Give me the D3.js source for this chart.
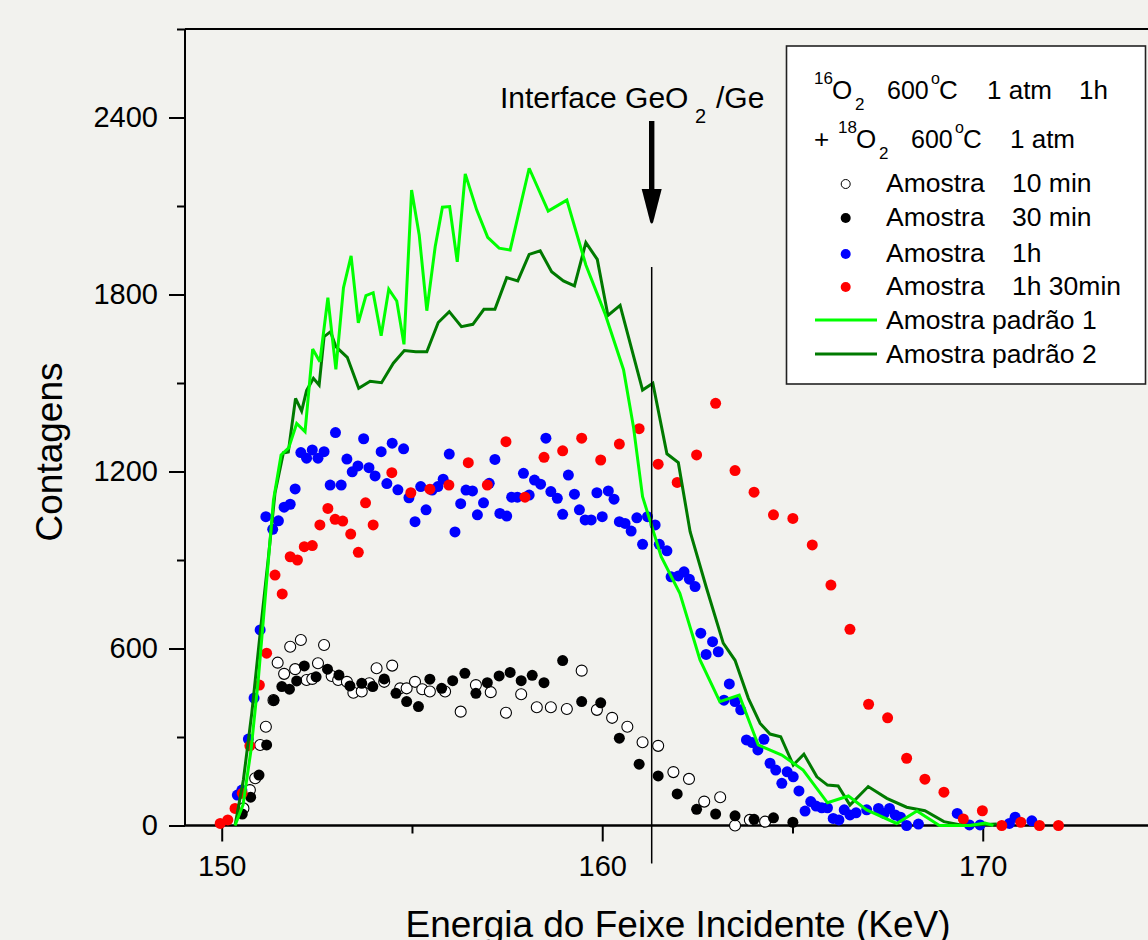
<!DOCTYPE html>
<html><head><meta charset="utf-8">
<script src="https://cdn.jsdelivr.net/npm/d3@7"></script>
<style>html,body{margin:0;padding:0;background:#f2f2ee;} svg{display:block;}</style>
</head><body>
<svg id="c" width="1148" height="940"></svg>
<script>
// ---------------- DATA ----------------
const xDomain = [149.035, 175];
const yDomain = [0, 2700];
const xMajorTicks = [150, 160, 170];
const xMinorTicks = [155, 165];
const yMajorTicks = [0, 600, 1200, 1800, 2400];
const yMinorTicks = [300, 900, 1500, 2100, 2700];
const interfaceEnergy = 161.3;
const interfaceTop = 1893;

// Amostra 10 min (open circles)
const amostra10min = [[150.57,58],[150.74,120],[150.88,160],[151.01,273],[151.16,335],[151.36,425],[151.47,552],[151.64,514],[151.80,606],[151.93,530],[152.08,629],[152.23,493],[152.38,497],[152.53,550],[152.69,612],[152.89,507],[153.06,493],[153.29,487],[153.46,450],[153.68,454],[153.88,482],[154.07,533],[154.27,487],[154.48,542],[154.69,465],[154.86,465],[155.08,487],[155.27,462],[155.47,454],[155.87,454],[156.28,386],[156.68,476],[157.07,452],[157.47,382],[157.87,445],[158.28,401],[158.65,401],[159.07,395],[159.46,525],[159.86,392],[160.26,365],[160.66,335],[161.06,282],[161.47,270],[161.87,181],[162.28,158],[162.68,81],[163.10,96],[163.49,0],[163.88,19],[164.28,13]];
// Amostra 30 min (black dots)
const amostra30min = [[150.54,39],[150.76,96],[150.98,171],[151.18,273],[151.37,425],[151.58,471],[151.78,462],[151.97,490],[152.17,541],[152.48,504],[152.78,530],[153.08,510],[153.37,473],[153.68,482],[153.97,471],[154.27,497],[154.58,448],[154.86,420],[155.17,403],[155.47,496],[155.78,465],[156.07,491],[156.39,516],[156.68,448],[156.98,484],[157.29,507],[157.58,519],[157.87,491],[158.16,509],[158.47,484],[158.96,559],[159.46,420],[159.96,416],[160.45,296],[160.97,208],[161.47,168],[161.97,107],[162.48,55],[162.98,39],[163.49,33],[163.99,21],[164.50,26],[165.01,11]];
// Amostra 1h (blue dots)
const amostra1h = [[150.41,103],[150.53,120],[150.70,293],[150.85,432],[151.01,663],[151.16,1047],[151.34,1004],[151.49,1033],[151.64,1079],[151.80,1089],[151.93,1141],[152.08,1264],[152.23,1245],[152.38,1273],[152.53,1245],[152.69,1267],[152.85,1154],[152.99,1332],[153.14,1154],[153.29,1242],[153.43,1199],[153.58,1219],[153.73,1311],[153.87,1213],[154.03,1185],[154.19,1267],[154.34,1159],[154.48,1296],[154.63,1138],[154.78,1277],[154.92,1111],[155.08,1030],[155.23,1149],[155.37,1070],[155.53,1137],[155.68,1149],[155.82,1174],[155.98,1259],[156.13,995],[156.28,1091],[156.42,1137],[156.59,1134],[156.72,1053],[156.88,1094],[157.03,1160],[157.18,1241],[157.31,1058],[157.49,1049],[157.62,1113],[157.77,1113],[157.93,1194],[158.08,1120],[158.22,1171],[158.38,1157],[158.52,1313],[158.65,1132],[158.82,1109],[158.96,1055],[159.11,1188],[159.27,1123],[159.40,1070],[159.55,1036],[159.71,1036],[159.86,1128],[160.00,1047],[160.16,1134],[160.31,1106],[160.45,1030],[160.60,1024],[160.76,998],[160.91,1043],[161.06,953],[161.19,1047],[161.39,1019],[161.50,953],[161.70,931],[161.81,843],[162.00,846],[162.15,860],[162.29,835],[162.44,810],[162.59,652],[162.73,580],[162.90,623],[163.05,589],[163.20,425],[163.34,480],[163.49,420],[163.64,392],[163.79,290],[163.94,281],[164.09,256],[164.25,292],[164.41,211],[164.56,188],[164.72,143],[164.86,182],[165.02,165],[165.17,117],[165.33,49],[165.48,81],[165.62,66],[165.77,60],[165.92,60],[166.07,24],[166.22,19],[166.36,53],[166.51,36],[166.67,43],[166.95,53],[167.26,58],[167.41,41],[167.55,58],[167.70,36],[167.84,28],[168.00,0],[168.31,5],[169.33,41],[169.65,2],[169.93,2],[170.70,7],[170.85,28],[171.29,16]];
// Amostra 1h 30min (red dots)
const amostra1h30 = [[149.96,7],[150.16,19],[150.35,58],[150.54,109],[150.74,270],[150.99,476],[151.18,584],[151.40,849],[151.59,785],[151.80,911],[151.99,900],[152.17,945],[152.38,949],[152.58,1019],[152.79,1075],[152.98,1038],[153.18,1032],[153.39,988],[153.59,926],[153.78,1094],[153.98,1019],[154.47,1196],[154.97,1128],[155.47,1140],[155.97,1154],[156.48,1230],[156.98,1154],[157.47,1301],[157.97,1113],[158.47,1248],[158.96,1270],[159.46,1313],[159.96,1239],[160.45,1293],[160.97,1345],[161.47,1225],[161.97,1163],[162.48,1256],[162.98,1431],[163.49,1203],[163.99,1130],[164.50,1053],[165.01,1041],[165.52,951],[166.01,815],[166.51,665],[167.00,411],[167.50,365],[168.00,228],[168.48,157],[168.98,113],[169.49,22],[169.99,50],[170.50,0],[171.00,11],[171.49,0],[171.99,0]];
// Amostra padrão 1 (light green line)
const padrao1 = [[150.35,0],[150.56,70],[150.77,256],[150.96,493],[151.16,798],[151.36,1103],[151.56,1256],[151.76,1280],[151.97,1363],[152.19,1335],[152.39,1615],[152.58,1572],[152.79,1789],[153.00,1546],[153.20,1823],[153.40,1931],[153.59,1704],[153.79,1796],[153.98,1806],[154.19,1660],[154.39,1818],[154.60,1778],[154.79,1631],[154.99,2154],[155.19,2002],[155.39,1745],[155.61,1962],[155.80,2096],[155.99,2098],[156.19,1911],[156.40,2209],[156.70,2087],[156.99,1994],[157.29,1957],[157.58,1951],[158.08,2228],[158.58,2083],[159.07,2120],[159.57,1900],[160.07,1736],[160.56,1545],[160.82,1352],[161.06,1115],[161.55,911],[162.04,787],[162.57,561],[163.09,420],[163.60,442],[164.10,273],[164.72,239],[165.28,188],[165.92,77],[166.47,100],[166.95,53],[167.74,7],[168.27,49],[168.86,0],[169.67,0],[170.06,8],[170.28,0]];
// Amostra padrão 2 (dark green line)
const padrao2 = [[150.35,0],[150.57,155],[150.79,381],[151.01,652],[151.22,900],[151.40,1127],[151.62,1263],[151.75,1266],[151.94,1448],[152.10,1405],[152.23,1474],[152.41,1516],[152.56,1493],[152.69,1657],[152.86,1674],[153.00,1623],[153.30,1587],[153.60,1482],[153.90,1506],[154.20,1501],[154.51,1567],[154.80,1610],[155.10,1606],[155.39,1606],[155.69,1705],[155.98,1742],[156.30,1691],[156.60,1699],[156.89,1750],[157.18,1750],[157.49,1857],[157.78,1846],[158.08,1936],[158.37,1948],[158.67,1877],[158.98,1846],[159.27,1829],[159.57,1976],[159.87,1919],[160.15,1729],[160.47,1763],[161.06,1476],[161.33,1499],[161.70,1260],[162.00,1230],[162.31,996],[162.74,805],[163.18,618],[163.49,560],[163.84,431],[164.15,346],[164.41,310],[164.69,301],[165.02,205],[165.30,242],[165.64,165],[165.92,137],[166.20,134],[166.51,69],[166.99,132],[167.48,92],[168.00,62],[168.48,50],[168.98,13],[169.49,0],[170.37,5]];

const legendItems = [
  {name:"Amostra", suffix:"10 min", type:"open", color:"#000"},
  {name:"Amostra", suffix:"30 min", type:"dot", color:"#000"},
  {name:"Amostra", suffix:"1h", type:"dot", color:"#0000ff"},
  {name:"Amostra", suffix:"1h 30min", type:"dot", color:"#ff0000"},
  {name:"Amostra padrão 1", suffix:"", type:"line", color:"#00ff00"},
  {name:"Amostra padrão 2", suffix:"", type:"line", color:"#007a00"}
];

// ---------------- DRAW ----------------
const W = 1148, H = 940;
const F = '"Liberation Sans", Arial, Helvetica, sans-serif';
const svg = d3.select('#c');
svg.append('rect').attr('width', W).attr('height', H).attr('fill', '#f2f2ee');

const x = d3.scaleLinear().domain(xDomain).range([185, 1173]);
const y = d3.scaleLinear().domain(yDomain).range([825.5, 29]);

// frame
const frame = svg.append('g').attr('stroke', '#000').attr('fill', 'none');
frame.append('line').attr('x1', x(xDomain[0])).attr('x2', x(xDomain[1])).attr('y1', y(yDomain[1])).attr('y2', y(yDomain[1])).attr('stroke-width', 2);
frame.append('line').attr('x1', x(xDomain[1])).attr('x2', x(xDomain[1])).attr('y1', y(yDomain[1])).attr('y2', y(0)).attr('stroke-width', 2);
frame.append('line').attr('x1', x(xDomain[0])).attr('x2', x(xDomain[0])).attr('y1', y(yDomain[1])).attr('y2', y(0)).attr('stroke-width', 2);
frame.append('line').attr('x1', x(xDomain[0])).attr('x2', x(xDomain[1])).attr('y1', y(0)).attr('y2', y(0)).attr('stroke-width', 2.6);

// axes
function styleAxis(g) {
  g.select('.domain').remove();
  g.attr('font-family', F).attr('font-size', 29);
  g.selectAll('line').attr('stroke', '#000').attr('stroke-width', 2);
  g.selectAll('text').attr('fill', '#000');
}
svg.append('g').attr('transform', `translate(${x(xDomain[0])},0)`)
  .call(d3.axisLeft(y).tickValues(yMajorTicks).tickSize(16).tickPadding(11).tickFormat(d3.format('d'))).call(styleAxis);
svg.append('g').attr('transform', `translate(${x(xDomain[0])},0)`)
  .call(d3.axisLeft(y).tickValues(yMinorTicks).tickSize(8).tickFormat('')).call(styleAxis);
svg.append('g').attr('transform', `translate(0,${y(0)})`)
  .call(d3.axisBottom(x).tickValues(xMajorTicks).tickSize(16).tickPadding(14).tickFormat(d3.format('d'))).call(styleAxis);
svg.append('g').attr('transform', `translate(0,${y(0)})`)
  .call(d3.axisBottom(x).tickValues(xMinorTicks).tickSize(8).tickFormat('')).call(styleAxis);

// axis titles
svg.append('text').attr('x', 678).attr('y', 937).attr('text-anchor', 'middle')
  .attr('font-family', F).attr('font-size', 37).text('Energia do Feixe Incidente (KeV)');
svg.append('text').attr('transform', 'translate(62,452) rotate(-90)').attr('text-anchor', 'middle')
  .attr('font-family', F).attr('font-size', 37).text('Contagens');

// scatter
const R = 5.5;
function dots(data, fill, stroke, sw) {
  svg.append('g').selectAll('circle').data(data).join('circle')
    .attr('cx', d => x(d[0])).attr('cy', d => y(d[1])).attr('r', R)
    .attr('fill', fill).attr('stroke', stroke).attr('stroke-width', sw);
}
dots(amostra10min, '#ffffff', '#000', 1.1);
dots(amostra30min, '#000', 'none', 0);
dots(amostra1h, '#0000ff', 'none', 0);
dots(amostra1h30, '#ff0000', 'none', 0);

// lines
const line = d3.line().x(d => x(d[0])).y(d => y(d[1]));
svg.append('path').datum(padrao2).attr('d', line).attr('fill', 'none').attr('stroke', '#007a00').attr('stroke-width', 3).attr('stroke-linejoin', 'miter').attr('stroke-miterlimit', 3);
svg.append('path').datum(padrao1).attr('d', line).attr('fill', 'none').attr('stroke', '#00ff00').attr('stroke-width', 3).attr('stroke-linejoin', 'miter').attr('stroke-miterlimit', 3);

// interface line & arrow
const xi = x(interfaceEnergy);
svg.append('line').attr('x1', xi).attr('x2', xi).attr('y1', y(interfaceTop)).attr('y2', y(0) + 38)
  .attr('stroke', '#000').attr('stroke-width', 1.5);
svg.append('rect').attr('x', xi - 2.7).attr('y', 121).attr('width', 5.4).attr('height', 72).attr('fill', '#000');
svg.append('path').attr('d', `M${xi-10},189 L${xi+10},189 L${xi+1.5},222 Q${xi},225 ${xi-1.5},222 Z`).attr('fill', '#000');
const it = svg.append('text').attr('font-family', F).attr('font-size', 30).attr('fill', '#000');
it.append('tspan').attr('x', 500).attr('y', 108).text('Interface GeO');
it.append('tspan').attr('x', 695).attr('y', 123).attr('font-size', 20).text('2');
it.append('tspan').attr('x', 716).attr('y', 108).text('/Ge');

// legend
const lg = svg.append('g').attr('font-family', F).attr('fill', '#000');
lg.append('rect').attr('x', 786.5).attr('y', 46).attr('width', 359).attr('height', 338)
  .attr('fill', '#ffffff').attr('stroke', '#222').attr('stroke-width', 1.6);
function t(xp, yp, s, fs) { lg.append('text').attr('x', xp).attr('y', yp).attr('font-size', fs).text(s); }
// header line 1
t(814, 84, '16', 17); t(832, 99, 'O', 26); t(855, 110, '2', 17);
t(887, 99, '600', 25); t(931, 84, 'o', 16); t(939, 99, 'C', 26);
t(987, 99, '1 atm', 26); t(1079, 99, '1h', 26);
// header line 2
t(814, 148, '+', 26); t(838, 133, '18', 17); t(856, 148, 'O', 26); t(879, 159, '2', 17);
t(911, 148, '600', 25); t(955, 133, 'o', 16); t(963, 148, 'C', 26);
t(1010, 148, '1 atm', 26);

const rowBase = [192, 226, 262, 295, 329, 363];
legendItems.forEach((it, i) => {
  const b = rowBase[i];
  const cy = b - 8;
  if (it.type === 'open') {
    lg.append('circle').attr('cx', 845.7).attr('cy', cy).attr('r', 4.5).attr('fill', '#fff').attr('stroke', '#000').attr('stroke-width', 1);
  } else if (it.type === 'dot') {
    lg.append('circle').attr('cx', 845.7).attr('cy', cy).attr('r', 5).attr('fill', it.color);
  } else {
    lg.append('line').attr('x1', 815).attr('x2', 877).attr('y1', cy - 1).attr('y2', cy - 1).attr('stroke', it.color).attr('stroke-width', 3);
  }
  t(886, b, it.name, 26.5);
  if (it.suffix) t(1012, b, it.suffix, 26.5);
});
</script></body></html>
